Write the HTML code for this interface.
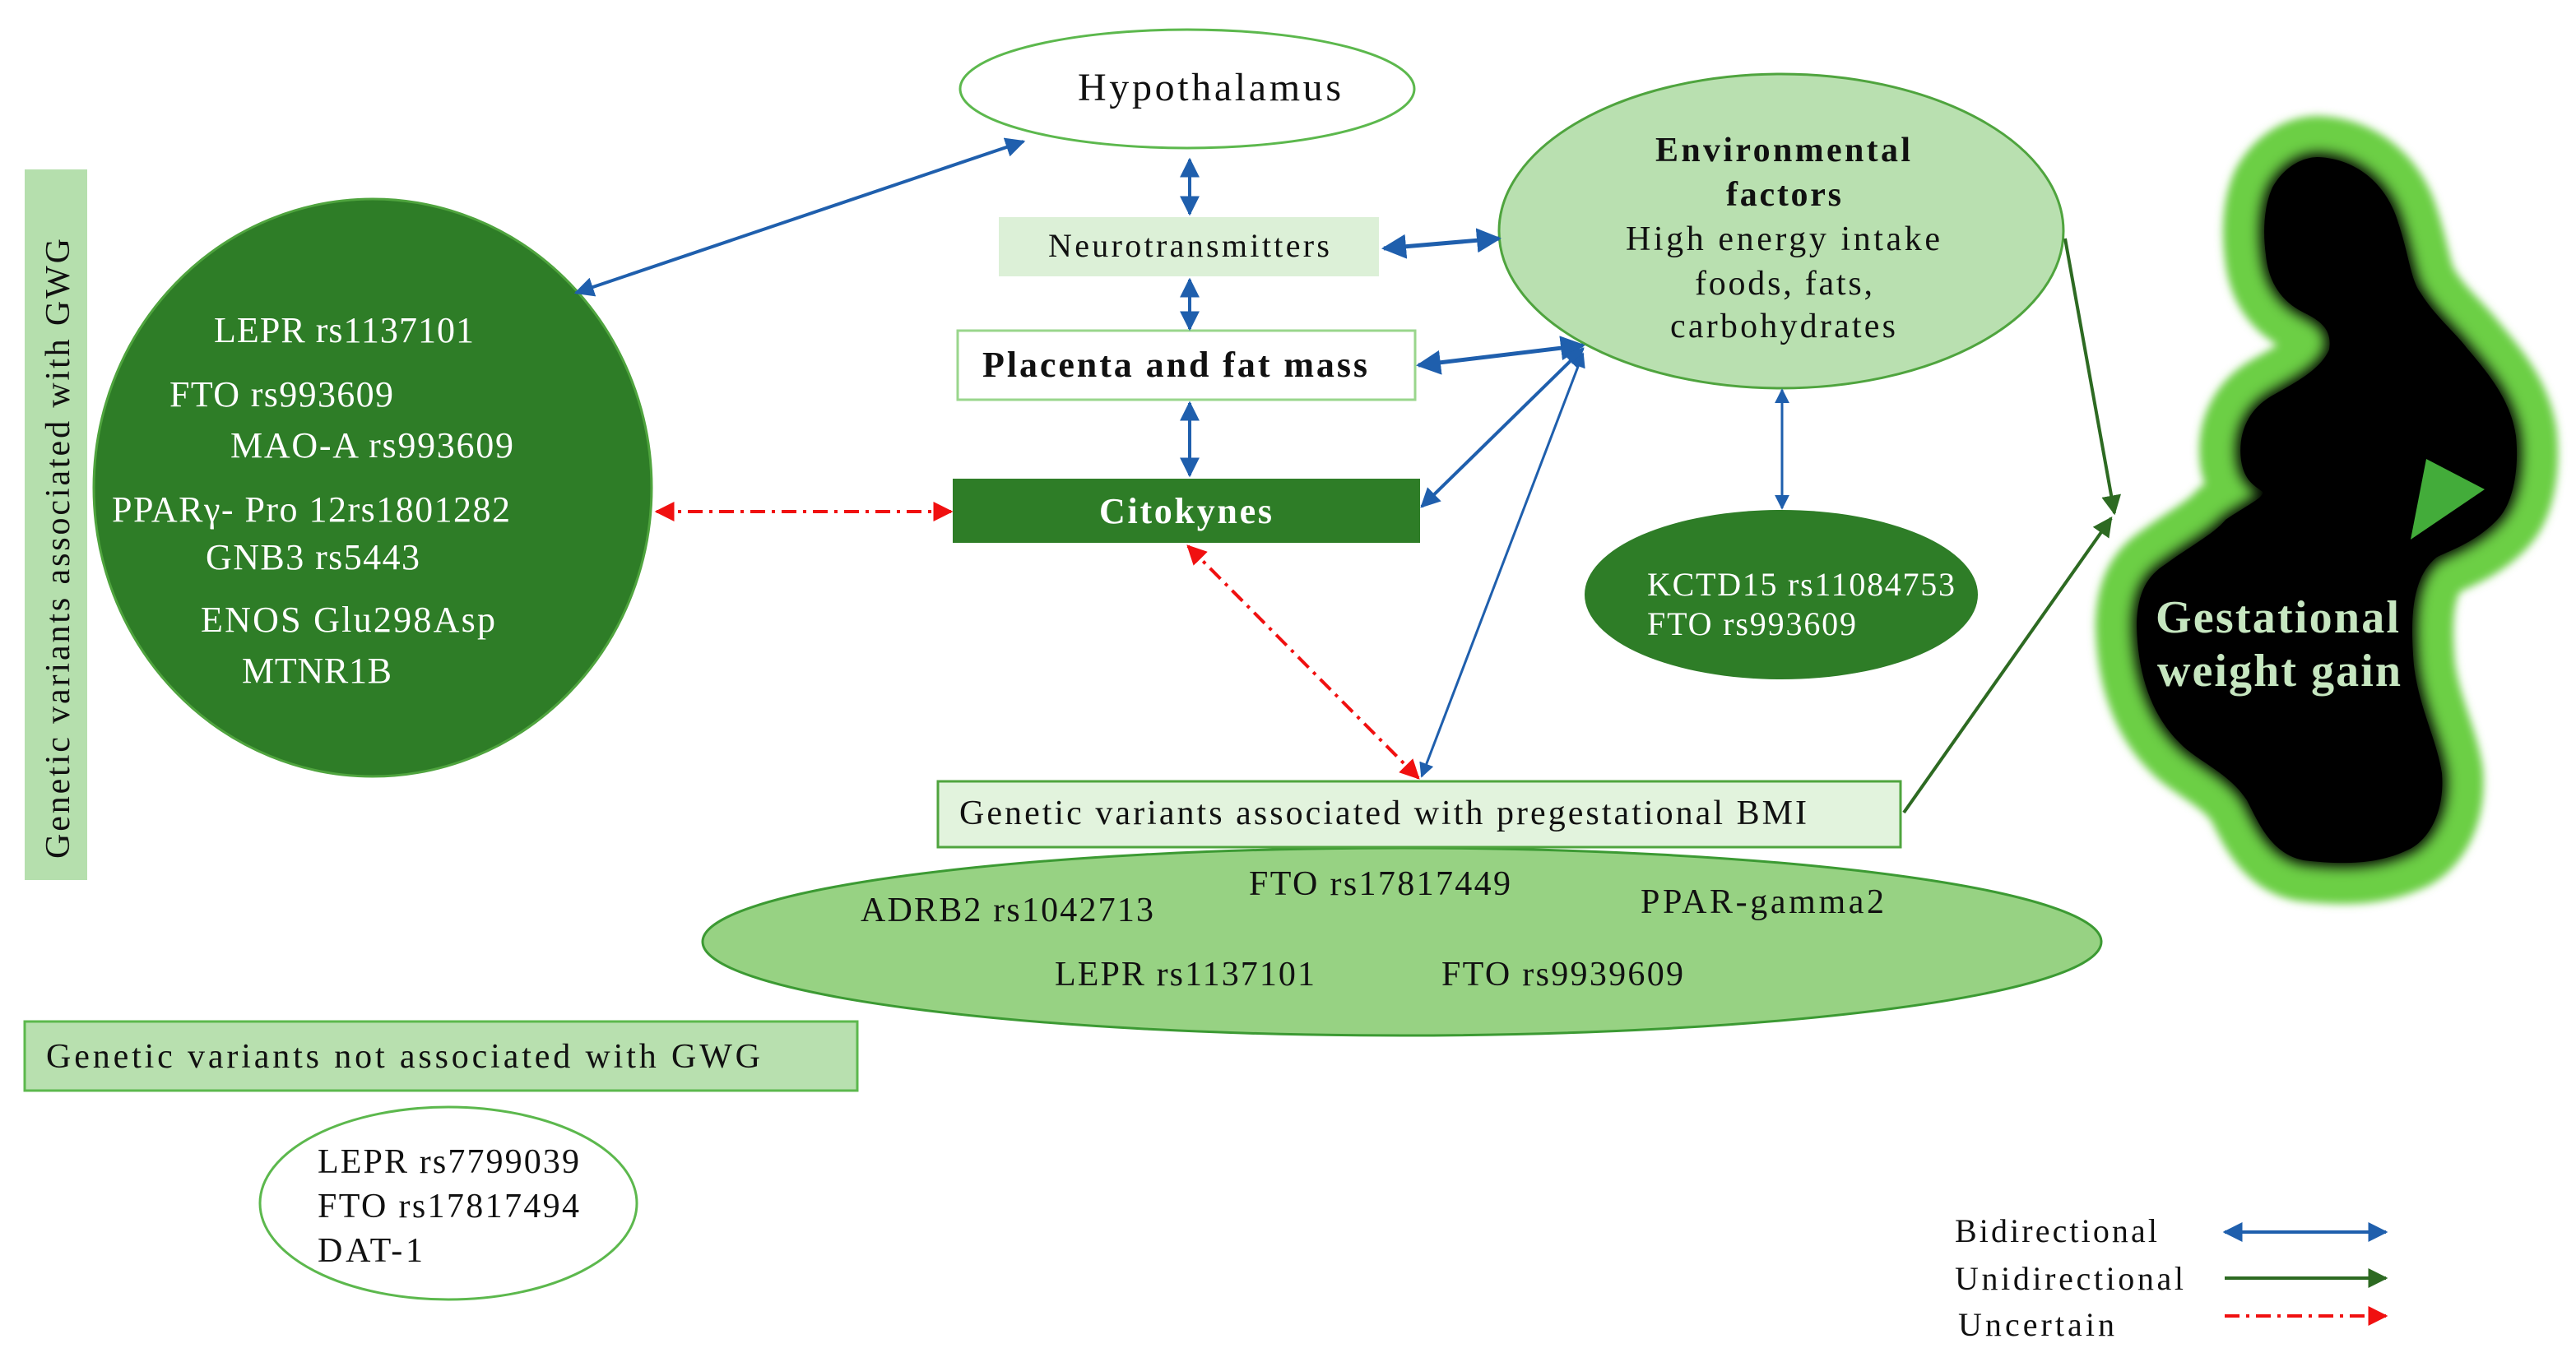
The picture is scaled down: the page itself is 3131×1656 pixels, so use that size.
<!DOCTYPE html>
<html><head><meta charset="utf-8"><style>
html,body{margin:0;padding:0;background:#fff}
svg{display:block}
text{font-family:"Liberation Serif",serif}
</style></head><body>
<svg width="3131" height="1656" viewBox="0 0 3131 1656" xmlns="http://www.w3.org/2000/svg">
<defs>
<marker id="bh" viewBox="0 0 10 10" refX="9" refY="5" markerWidth="6" markerHeight="6" orient="auto-start-reverse"><path d="M0,0 L10,5 L0,10 z" fill="#1f5fad"/></marker>
<marker id="gh" viewBox="0 0 10 10" refX="9" refY="5" markerWidth="6" markerHeight="6" orient="auto"><path d="M0,0 L10,5 L0,10 z" fill="#2d6a22"/></marker>
<marker id="rh" viewBox="0 0 10 10" refX="9" refY="5" markerWidth="6" markerHeight="6" orient="auto-start-reverse"><path d="M0,0 L10,5 L0,10 z" fill="#f01010"/></marker>
<filter id="blur" x="-20%" y="-20%" width="140%" height="140%"><feGaussianBlur stdDeviation="8"/></filter>
<filter id="blur2" x="-20%" y="-20%" width="140%" height="140%"><feGaussianBlur stdDeviation="5"/></filter>
</defs>

<!-- silhouette -->
<path id="body" d="M2816,191 C2860,192 2900,220 2915,271 C2928,310 2930,340 2942,356 C2960,385 2985,405 2999,424 C3030,460 3052,490 3058,530 C3062,570 3055,610 3037,630 C3010,660 2975,670 2961,678 C2935,700 2928,740 2934,809 C2940,860 2962,900 2968,940 C2972,990 2950,1025 2923,1035 C2890,1050 2850,1052 2800,1046 C2760,1038 2745,1000 2731,973 C2710,940 2670,925 2650,904 C2615,870 2598,820 2597,759 C2598,720 2610,700 2632,686 C2660,665 2690,650 2705,632 C2730,615 2752,605 2750,598 C2740,590 2728,585 2724,560 C2720,530 2730,500 2760,482 C2790,465 2820,450 2831,425 C2835,400 2820,390 2800,380 C2770,365 2757,340 2754,310 C2750,280 2752,250 2762,228 C2775,205 2795,192 2816,191 Z" fill="none" stroke="#6ccf45" stroke-width="100" stroke-linejoin="round" filter="url(#blur2)"/>
<path d="M2816,191 C2860,192 2900,220 2915,271 C2928,310 2930,340 2942,356 C2960,385 2985,405 2999,424 C3030,460 3052,490 3058,530 C3062,570 3055,610 3037,630 C3010,660 2975,670 2961,678 C2935,700 2928,740 2934,809 C2940,860 2962,900 2968,940 C2972,990 2950,1025 2923,1035 C2890,1050 2850,1052 2800,1046 C2760,1038 2745,1000 2731,973 C2710,940 2670,925 2650,904 C2615,870 2598,820 2597,759 C2598,720 2610,700 2632,686 C2660,665 2690,650 2705,632 C2730,615 2752,605 2750,598 C2740,590 2728,585 2724,560 C2720,530 2730,500 2760,482 C2790,465 2820,450 2831,425 C2835,400 2820,390 2800,380 C2770,365 2757,340 2754,310 C2750,280 2752,250 2762,228 C2775,205 2795,192 2816,191 Z" fill="#000" stroke="#000" stroke-width="10" filter="url(#blur)"/>
<path d="M2816,191 C2860,192 2900,220 2915,271 C2928,310 2930,340 2942,356 C2960,385 2985,405 2999,424 C3030,460 3052,490 3058,530 C3062,570 3055,610 3037,630 C3010,660 2975,670 2961,678 C2935,700 2928,740 2934,809 C2940,860 2962,900 2968,940 C2972,990 2950,1025 2923,1035 C2890,1050 2850,1052 2800,1046 C2760,1038 2745,1000 2731,973 C2710,940 2670,925 2650,904 C2615,870 2598,820 2597,759 C2598,720 2610,700 2632,686 C2660,665 2690,650 2705,632 C2730,615 2752,605 2750,598 C2740,590 2728,585 2724,560 C2720,530 2730,500 2760,482 C2790,465 2820,450 2831,425 C2835,400 2820,390 2800,380 C2770,365 2757,340 2754,310 C2750,280 2752,250 2762,228 C2775,205 2795,192 2816,191 Z" fill="#000"/>
<polygon points="2949,558 3020,595 2930,656" fill="#43ac3a"/>
<text x="2620" y="769" font-size="56" font-weight="bold" fill="#c6e6c0" textLength="296">Gestational</text>
<text x="2622" y="834" font-size="56" font-weight="bold" fill="#c6e6c0" textLength="296">weight gain</text>

<!-- left vertical bar -->
<rect x="30" y="206" width="76" height="864" fill="#b5dfad"/>
<text transform="translate(84,667) rotate(-90)" text-anchor="middle" font-size="42" fill="#111" textLength="754">Genetic variants associated with GWG</text>

<!-- big circle -->
<ellipse cx="453" cy="593" rx="339" ry="351" fill="#2e7d27" stroke="#4fa43e" stroke-width="3"/>
<g fill="#fff" font-size="44">
<text x="260" y="416" textLength="316">LEPR rs1137101</text>
<text x="206" y="494" textLength="272">FTO rs993609</text>
<text x="280" y="556" textLength="344">MAO-A rs993609</text>
<text x="136" y="634" textLength="484">PPARγ- Pro 12rs1801282</text>
<text x="250" y="692" textLength="260">GNB3 rs5443</text>
<text x="244" y="768" textLength="358">ENOS Glu298Asp</text>
<text x="294" y="830" textLength="182">MTNR1B</text>
</g>

<!-- hypothalamus -->
<ellipse cx="1443" cy="108" rx="276" ry="72" fill="#fff" stroke="#5cb84d" stroke-width="3"/>
<text x="1310" y="122" font-size="48" fill="#111" textLength="320">Hypothalamus</text>

<rect x="1214" y="264" width="462" height="72" fill="#dcf0d7"/>
<text x="1274" y="312" font-size="40" fill="#111" textLength="342">Neurotransmitters</text>

<rect x="1164" y="402" width="556" height="84" fill="#fff" stroke="#9ad68c" stroke-width="3"/>
<text x="1194" y="458" font-size="44" font-weight="bold" fill="#111" textLength="468">Placenta and fat mass</text>

<rect x="1158" y="582" width="568" height="78" fill="#2e7d27"/>
<text x="1336" y="636" font-size="44" font-weight="bold" fill="#fff" textLength="210">Citokynes</text>

<!-- environmental -->
<ellipse cx="2165" cy="281" rx="343" ry="191" fill="#b9e0b0" stroke="#4fa43e" stroke-width="3"/>
<g fill="#111" font-size="42">
<text x="2012" y="196" font-weight="bold" textLength="310">Environmental</text>
<text x="2098" y="250" font-weight="bold" textLength="140">factors</text>
<text x="1976" y="304" textLength="382">High energy  intake</text>
<text x="2060" y="358" textLength="216">foods, fats,</text>
<text x="2030" y="410" textLength="274">carbohydrates</text>
</g>

<ellipse cx="2165" cy="723" rx="239" ry="103" fill="#2e7d27"/>
<text x="2002" y="724" font-size="40" fill="#fff" textLength="374">KCTD15 rs11084753</text>
<text x="2002" y="772" font-size="40" fill="#fff" textLength="254">FTO rs993609</text>

<!-- pregestational -->
<ellipse cx="1704" cy="1145" rx="850" ry="114" fill="#97d283" stroke="#3c9a33" stroke-width="3"/>
<rect x="1140" y="950" width="1170" height="80" fill="#e2f3dd" stroke="#4fa43e" stroke-width="3"/>
<text x="1166" y="1002" font-size="42" fill="#111" textLength="1030">Genetic variants associated  with pregestational  BMI</text>
<g fill="#111" font-size="42">
<text x="1046" y="1120" textLength="356">ADRB2 rs1042713</text>
<text x="1518" y="1088" textLength="318">FTO rs17817449</text>
<text x="1994" y="1110" textLength="296">PPAR-gamma2</text>
<text x="1282" y="1198" textLength="316">LEPR rs1137101</text>
<text x="1752" y="1198" textLength="294">FTO rs9939609</text>
</g>

<!-- not associated -->
<rect x="30" y="1242" width="1012" height="84" fill="#b8e0af" stroke="#5cb84d" stroke-width="3"/>
<text x="56" y="1298" font-size="42" fill="#111" textLength="868">Genetic variants not associated with GWG</text>
<ellipse cx="545" cy="1463" rx="229" ry="117" fill="#fff" stroke="#5cb84d" stroke-width="3"/>
<g fill="#111" font-size="42">
<text x="386" y="1426" textLength="318">LEPR rs7799039</text>
<text x="386" y="1480" textLength="318">FTO rs17817494</text>
<text x="386" y="1534" textLength="128">DAT-1</text>
</g>

<!-- blue bidirectional arrows -->
<g stroke="#1f5fad" stroke-width="4" fill="none" marker-start="url(#bh)" marker-end="url(#bh)">
<line x1="1244" y1="172" x2="700" y2="356"/>
<line x1="1446" y1="194" x2="1446" y2="260"/>
<line x1="1446" y1="340" x2="1446" y2="400"/>
<line x1="1446" y1="490" x2="1446" y2="578"/>
<line x1="1682" y1="302" x2="1822" y2="290" stroke-width="5"/>
<line x1="1724" y1="444" x2="1924" y2="420" stroke-width="5"/>
<line x1="1728" y1="616" x2="1924" y2="424"/>
<line x1="1924" y1="430" x2="1728" y2="944" stroke-width="3"/>
<line x1="2166" y1="474" x2="2166" y2="618" stroke-width="3"/>
<line x1="2704" y1="1498" x2="2900" y2="1498"/>
</g>
<!-- green -->
<g stroke="#2d6a22" stroke-width="4" fill="none" marker-end="url(#gh)">
<line x1="2510" y1="290" x2="2570" y2="624"/>
<line x1="2314" y1="988" x2="2566" y2="630"/>
<line x1="2704" y1="1554" x2="2900" y2="1554"/>
</g>
<!-- red dashed -->
<g stroke="#f01010" stroke-width="4" fill="none" stroke-dasharray="18,8,4,8" marker-start="url(#rh)" marker-end="url(#rh)">
<line x1="798" y1="622" x2="1156" y2="622"/>
<line x1="1444" y1="664" x2="1724" y2="946"/>
</g>
<line x1="2704" y1="1600" x2="2900" y2="1600" stroke="#f01010" stroke-width="4" stroke-dasharray="18,8,4,8" marker-end="url(#rh)"/>

<g fill="#111" font-size="40">
<text x="2376" y="1510" textLength="246">Bidirectional</text>
<text x="2376" y="1568" textLength="278">Unidirectional</text>
<text x="2380" y="1624" textLength="190">Uncertain</text>
</g>
</svg>
</body></html>
